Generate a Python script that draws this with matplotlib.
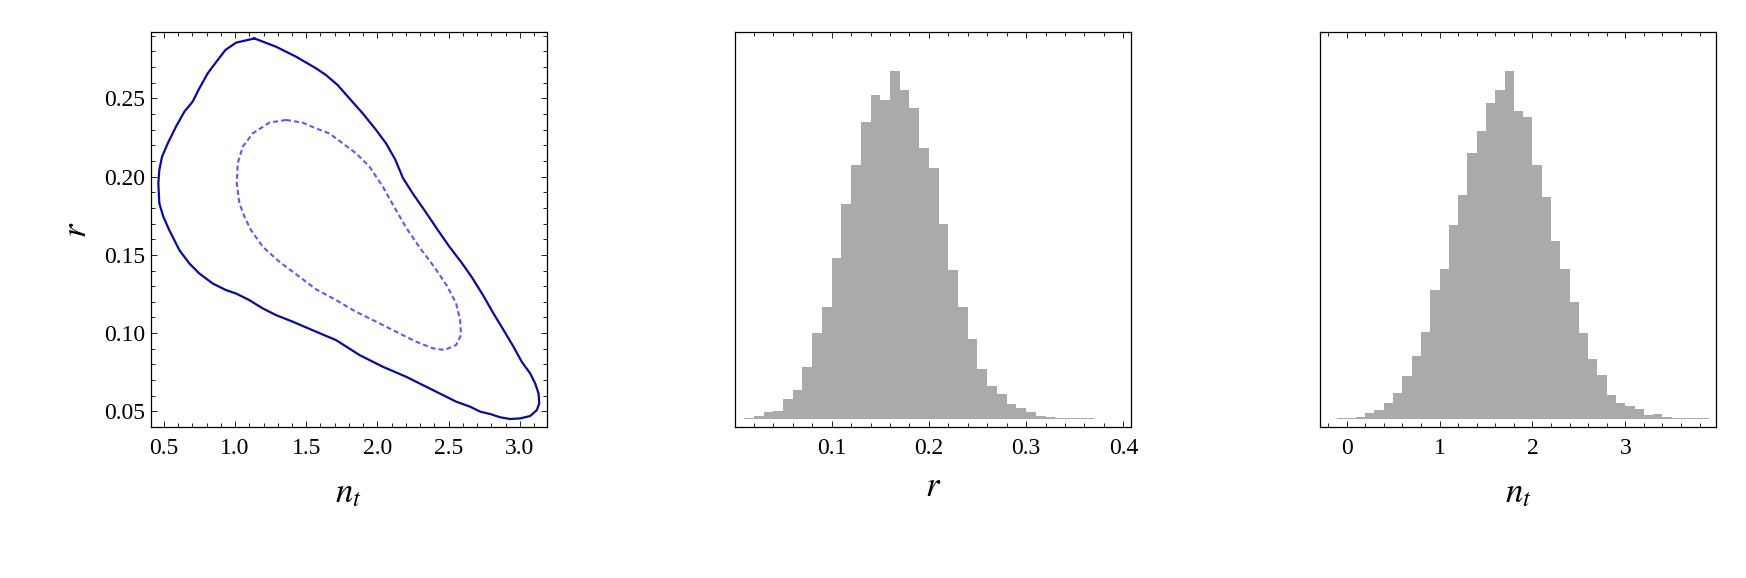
import numpy as np
import matplotlib
matplotlib.use("Agg")
import matplotlib.pyplot as plt
from matplotlib.ticker import MultipleLocator

plt.rcParams['font.family'] = ['Liberation Serif', 'DejaVu Serif']
plt.rcParams['mathtext.fontset'] = 'stix'

# --- joint contour (n_t, r): outer solid and inner dashed levels ---
outer_nt = [1.136, 1.288, 1.429, 1.569, 1.639, 1.721, 1.803, 1.897, 1.991, 2.061,
            2.125, 2.180, 2.250, 2.336, 2.424, 2.506, 2.595, 2.665, 2.741, 2.815,
            2.886, 2.956, 3.014, 3.073, 3.108, 3.132, 3.137, 3.120, 3.073, 3.003,
            2.933, 2.863, 2.792, 2.722, 2.651, 2.553, 2.436, 2.319, 2.202, 2.038,
            1.874, 1.710, 1.569, 1.405, 1.288, 1.194, 1.100, 1.007, 0.936, 0.843,
            0.749, 0.679, 0.609, 0.538, 0.496, 0.468, 0.461, 0.468, 0.487, 0.527,
            0.585, 0.644, 0.702, 0.749, 0.808, 0.878, 0.932, 1.007, 1.136]
outer_r = [0.2883, 0.2830, 0.2766, 0.2692, 0.2649, 0.2585, 0.2500, 0.2404, 0.2298, 0.2212,
           0.2110, 0.1990, 0.1890, 0.1778, 0.1659, 0.1552, 0.1446, 0.1355, 0.1244, 0.1126,
           0.1020, 0.0913, 0.0817, 0.0743, 0.0679, 0.0615, 0.0551, 0.0508, 0.0470, 0.0455,
           0.0451, 0.0462, 0.0483, 0.0498, 0.0530, 0.0562, 0.0615, 0.0668, 0.0721, 0.0785,
           0.0860, 0.0955, 0.1009, 0.1073, 0.1115, 0.1158, 0.1211, 0.1253, 0.1275, 0.1317,
           0.1381, 0.1445, 0.1530, 0.1658, 0.1744, 0.1829, 0.1957, 0.2042, 0.2127, 0.2212,
           0.2319, 0.2415, 0.2479, 0.2564, 0.2660, 0.2745, 0.2809, 0.2856, 0.2883]

inner_nt = [1.358, 1.475, 1.569, 1.663, 1.757, 1.850, 1.944, 2.038, 2.125, 2.205,
            2.302, 2.402, 2.490, 2.553, 2.581, 2.588, 2.553, 2.471, 2.389, 2.272,
            2.131, 1.991, 1.850, 1.710, 1.569, 1.452, 1.311, 1.194, 1.112, 1.066,
            1.031, 1.012, 1.019, 1.054, 1.124, 1.241, 1.358]
inner_r = [0.2362, 0.2345, 0.2308, 0.2276, 0.2212, 0.2149, 0.2064, 0.1936, 0.1795, 0.1670,
           0.1540, 0.1420, 0.1300, 0.1190, 0.1084, 0.0988, 0.0924, 0.0892, 0.0903, 0.0945,
           0.1009, 0.1073, 0.1136, 0.1211, 0.1280, 0.1360, 0.1456, 0.1552, 0.1658, 0.1744,
           0.1829, 0.1957, 0.2085, 0.2191, 0.2276, 0.2345, 0.2362]

# --- histogram of r: bins of width 0.01 starting at 0.01 ---
r_start = 0.01
r_width = 0.01
r_counts = [3, 10, 21, 24, 60, 87, 155, 259, 335, 484,
            644, 761, 890, 970, 957, 1043, 986, 932, 812, 752,
            584, 446, 336, 239, 151, 98, 75, 45, 33, 21,
            10, 6, 3, 3, 3, 3]

# --- histogram of n_t: bins of width 0.1 starting at -0.1 ---
nt_start = -0.1
nt_width = 0.1
nt_counts = [3, 3, 6, 18, 27, 48, 78, 128, 187, 259,
             385, 449, 580, 671, 797, 863, 946, 986, 1043, 923,
             905, 762, 665, 534, 450, 350, 258, 179, 131, 72,
             48, 37, 30, 10, 13, 6, 3, 3, 3, 3]

W, H = 1746, 578
fig = plt.figure(figsize=(W / 100, H / 100), dpi=100)

def place(left_px):
    return [left_px / W, (H - 427) / H, 396 / W, 395.3 / H]

ax1 = fig.add_axes(place(150.5))
ax2 = fig.add_axes(place(735.3))
ax3 = fig.add_axes(place(1320.3))

label_size = 25
tick_size = 17

for ax in (ax1, ax2, ax3):
    for s in ax.spines.values():
        s.set_linewidth(0.9)
    ax.tick_params(which='both', direction='in', width=0.6, labelsize=tick_size, pad=8)
    ax.tick_params(which='major', length=4.5)
    ax.tick_params(which='minor', length=2.7)

# panel 1: contours
ax1.plot(outer_nt, outer_r, color='#0a0aa0', lw=1.6, solid_joinstyle='round')
ax1.plot(inner_nt, inner_r, color='#5a5aff', lw=1.5, dashes=(2.4, 1.5))
ax1.set_xlim(0.406, 3.188)
ax1.set_ylim(0.040, 0.2926)
ax1.xaxis.set_major_locator(MultipleLocator(0.5))
ax1.xaxis.set_minor_locator(MultipleLocator(0.1))
ax1.yaxis.set_major_locator(MultipleLocator(0.05))
ax1.yaxis.set_minor_locator(MultipleLocator(0.01))
ax1.xaxis.set_major_formatter(plt.FormatStrFormatter('%.1f'))
ax1.yaxis.set_major_formatter(plt.FormatStrFormatter('%.2f'))
ax1.tick_params(which='both', top=True, right=True)
ax1.tick_params(axis='y', pad=4)
ax1.set_xlabel('$n_t$', fontsize=label_size, va='baseline')
ax1.xaxis.set_label_coords(0.5, (427 - 502) / 395.3)
ax1.set_ylabel('$r$', fontsize=label_size, va='center')
ax1.yaxis.set_label_coords((77 - 150.5) / 396, 0.5)

# panel 2: r histogram
r_left = [r_start + i * r_width for i in range(len(r_counts))]
ax2.bar(r_left, r_counts, width=r_width, align='edge', color='#aaaaaa', linewidth=0)
ax2.set_xlim(0.0009, 0.4082)
ax2.set_ylim(-24, 1161)
ax2.xaxis.set_major_locator(MultipleLocator(0.1))
ax2.xaxis.set_minor_locator(MultipleLocator(0.02))
ax2.xaxis.set_major_formatter(plt.FormatStrFormatter('%.1f'))
ax2.set_yticks([])
ax2.tick_params(which='both', top=True)
ax2.set_xlabel('$r$', fontsize=label_size, va='baseline')
ax2.xaxis.set_label_coords(0.5, (427 - 496) / 395.3)

# panel 3: n_t histogram
nt_left = [nt_start + i * nt_width for i in range(len(nt_counts))]
ax3.bar(nt_left, nt_counts, width=nt_width, align='edge', color='#aaaaaa', linewidth=0)
ax3.set_xlim(-0.2835, 3.980)
ax3.set_ylim(-25, 1161)
ax3.xaxis.set_major_locator(MultipleLocator(1))
ax3.xaxis.set_minor_locator(MultipleLocator(0.2))
ax3.set_yticks([])
ax3.tick_params(which='both', top=True)
ax3.set_xlabel('$n_t$', fontsize=label_size, va='baseline')
ax3.xaxis.set_label_coords(0.5, (427 - 502) / 395.3)

fig.savefig('out.png', dpi=100)
